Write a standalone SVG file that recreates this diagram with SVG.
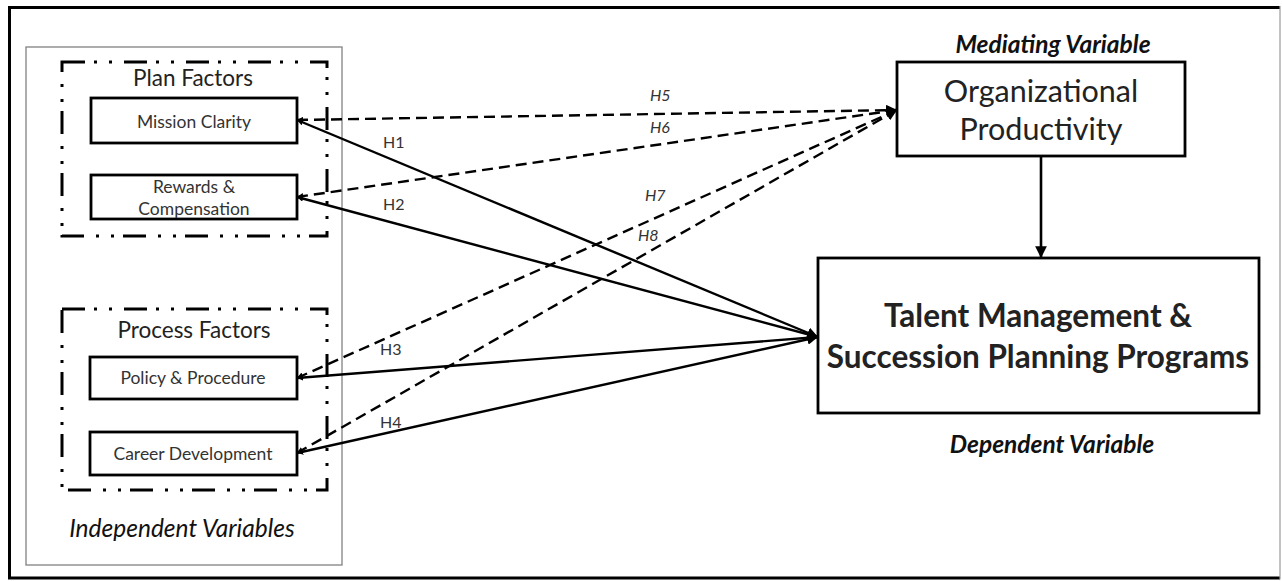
<svg xmlns="http://www.w3.org/2000/svg" width="1282" height="581" viewBox="0 0 1282 581">
  <style>
    text { font-family: Lato, "Open Sans", "Liberation Sans", sans-serif; fill: #222; }
    .node { fill: #fff; stroke: #000; stroke-width: 2.8; }
    .group { fill: none; stroke: #000; stroke-width: 3; stroke-dasharray: 23 9 3 12 3 12; }
    .item { font-size: 17.5px; text-anchor: middle; fill: #333; }
    .gtitle { font-size: 22.5px; text-anchor: middle; fill: #222; }
    .caption { font-size: 24.5px; font-weight: bold; font-style: italic; text-anchor: middle; fill: #111; }
    .hyp { font-size: 16px; fill: #333; }
    .hyp.it { font-style: italic; }
    .solid { fill: none; stroke: #000; stroke-width: 2.4; marker-start: url(#tail); marker-end: url(#head); }
    .dash { fill: none; stroke: #000; stroke-width: 2.4; stroke-dasharray: 11 6; marker-start: url(#tail); marker-end: url(#head); }
  </style>
  <defs>
    <marker id="head" viewBox="0 0 10 10" refX="10" refY="5" markerWidth="4.5" markerHeight="4.5" orient="auto" markerUnits="strokeWidth">
      <path d="M0,0 L10,5 L0,10 z" fill="#000"/>
    </marker>
    <marker id="tail" viewBox="0 0 10 10" refX="10" refY="5" markerWidth="2.6" markerHeight="2.6" orient="auto-start-reverse" markerUnits="strokeWidth">
      <path d="M0,0 L10,5 L0,10 z" fill="#000"/>
    </marker>
  </defs>

  <!-- page frame -->
  <rect x="0" y="0" width="1282" height="581" fill="#fff"/>
  <path d="M1280,7.5 H9.5 V578 H1280" fill="none" stroke="#000" stroke-width="3"/>
  <line x1="1280" y1="6" x2="1280" y2="579.5" stroke="#999" stroke-width="1.2"/>

  <!-- independent variables panel -->
  <g id="independent-variables">
    <rect x="26" y="47" width="316" height="518" fill="#fff" stroke="#8a8a8a" stroke-width="1.4"/>
    <text class="caption" x="182" y="537" style="font-weight:normal">Independent Variables</text>
  </g>

  <g id="plan-factors">
    <rect class="group" x="62" y="62" width="265" height="174"/>
    <text class="gtitle" x="193" y="86">Plan Factors</text>
  </g>
  <g id="process-factors">
    <rect class="group" x="62" y="309" width="265" height="181"/>
    <text class="gtitle" x="194" y="338">Process Factors</text>
  </g>

  <g id="mission-clarity">
    <rect class="node" x="91" y="98" width="206" height="45"/>
    <text class="item" x="194" y="128">Mission Clarity</text>
  </g>
  <g id="rewards-compensation">
    <rect class="node" x="91" y="175" width="206" height="44"/>
    <text class="item" x="194" y="193">Rewards &amp;</text>
    <text class="item" x="194" y="215">Compensation</text>
  </g>
  <g id="policy-procedure">
    <rect class="node" x="90" y="357" width="207" height="42"/>
    <text class="item" x="193" y="384">Policy &amp; Procedure</text>
  </g>
  <g id="career-development">
    <rect class="node" x="90" y="432" width="207" height="43"/>
    <text class="item" x="193" y="460">Career Development</text>
  </g>

  <g id="organizational-productivity">
    <text class="caption" x="1053" y="53">Mediating Variable</text>
    <rect class="node" x="897" y="62" width="288" height="94" stroke-width="3"/>
    <text x="1041" y="102" font-size="30.5" text-anchor="middle" fill="#222">Organizational</text>
    <text x="1041" y="140" font-size="30.5" text-anchor="middle" fill="#222">Productivity</text>
  </g>

  <g id="talent-management">
    <rect class="node" x="818" y="258" width="441" height="155" stroke-width="3"/>
    <text x="1038" y="327" font-size="31.5" font-weight="bold" text-anchor="middle" fill="#111">Talent Management &amp;</text>
    <text x="1038" y="368" font-size="31.5" font-weight="bold" text-anchor="middle" fill="#111">Succession Planning Programs</text>
    <text class="caption" x="1052" y="453">Dependent Variable</text>
  </g>

  <!-- hypothesis paths -->
  <g id="connectors">
    <line class="dash" x1="297" y1="120" x2="897" y2="110"/>
    <line class="dash" x1="297" y1="197" x2="897" y2="110"/>
    <line class="dash" x1="297" y1="378" x2="897" y2="110"/>
    <line class="dash" x1="297" y1="453" x2="897" y2="110"/>
    <line class="solid" x1="297" y1="120" x2="818" y2="337"/>
    <line class="solid" x1="297" y1="197" x2="818" y2="337"/>
    <line class="solid" x1="297" y1="378" x2="818" y2="337"/>
    <line class="solid" x1="297" y1="453" x2="818" y2="337"/>
    <line x1="1041" y1="156" x2="1041" y2="258" stroke="#000" stroke-width="2.6" marker-end="url(#head)"/>

    <text class="hyp" x="383" y="148">H1</text>
    <text class="hyp" x="383" y="210">H2</text>
    <text class="hyp" x="380" y="355">H3</text>
    <text class="hyp" x="380" y="428">H4</text>
    <text class="hyp it" x="650" y="101">H5</text>
    <text class="hyp it" x="650" y="133">H6</text>
    <text class="hyp it" x="645" y="201">H7</text>
    <text class="hyp it" x="638" y="241">H8</text>
  </g>
</svg>
